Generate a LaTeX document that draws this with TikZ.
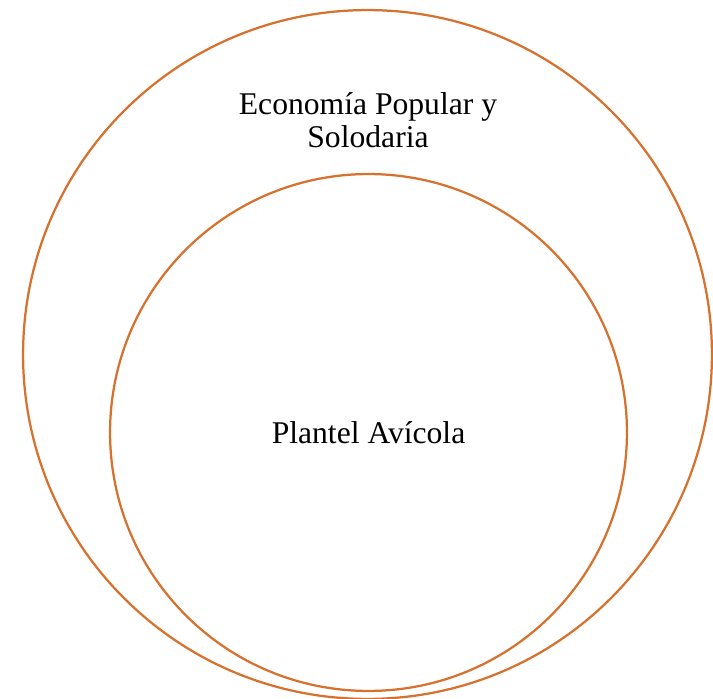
\documentclass[tikz,border=0pt]{standalone}
\usepackage{fontspec}
\setmainfont{Liberation Serif}
\usepackage{tikz}
\definecolor{ringorange}{RGB}{214,114,46}

\begin{document}
\begin{tikzpicture}[x=0.02cm, y=-0.02cm]
		\tikzstyle{ring} = [draw=ringorange, circle, line width=0.045cm, inner sep=0pt, outer sep=0pt]
		\tikzstyle{caption} = [align=center, font=\fontsize{18}{18.5}\selectfont, inner sep=0pt]
		\useasboundingbox (0,0) rectangle (713,699);
		\node [ring, minimum size=13.78cm] (popular) at (367.5,354.5) {};
		\node [ring, minimum size=10.34cm, caption] (plantel) at (368.5,432.5) {Plantel Av\'{\i}cola};
		\node [caption] (popularlbl) at (368,120) {Econom\'{\i}a Popular y\\Solodaria};
	\end{tikzpicture}
\end{document}
